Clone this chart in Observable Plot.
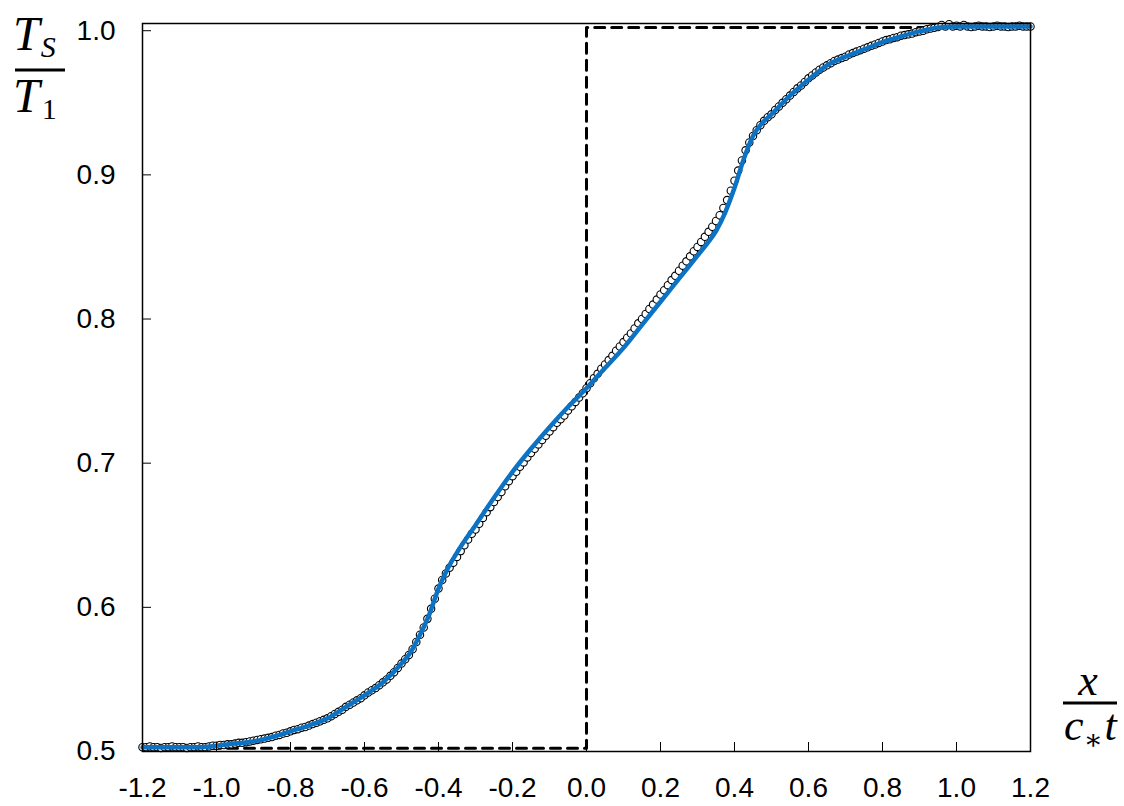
<!DOCTYPE html>
<html>
<head>
<meta charset="utf-8">
<script src="https://cdn.jsdelivr.net/npm/d3@7"></script>
<script src="https://cdn.jsdelivr.net/npm/@observablehq/plot@0.6"></script>
<style>
  html, body { margin: 0; padding: 0; background: #fff; }
  #chart svg { display: block; }
</style>
</head>
<body>
<div id="chart"></div>
<script>
// ---- data ----
const xTicks = [-1.2, -1.0, -0.8, -0.6, -0.4, -0.2, 0.0, 0.2, 0.4, 0.6, 0.8, 1.0, 1.2];
const yTicks = [0.5, 0.6, 0.7, 0.8, 0.9, 1.0];

// analytical solution (blue line)
const lineX = [-1.2,-1.15,-1.1,-1.05,-1.0,-0.95,-0.9,-0.85,-0.8,-0.75,-0.7,-0.65,-0.6,-0.55,-0.5,-0.475,-0.45,-0.425,-0.4,-0.375,-0.35,-0.3,-0.25,-0.2,-0.15,-0.1,-0.05,0,0.05,0.1,0.15,0.2,0.25,0.3,0.325,0.35,0.375,0.4,0.425,0.45,0.475,0.5,0.55,0.6,0.65,0.7,0.75,0.8,0.85,0.9,0.95,1.0,1.05,1.1,1.15,1.2];
const lineY = [0.503,0.503,0.503,0.503,0.504,0.5055,0.507,0.510,0.514,0.518,0.523,0.531,0.539,0.548,0.561,0.569,0.581,0.595,0.613,0.627,0.638,0.657,0.676,0.694,0.710,0.725,0.739,0.752,0.766,0.780,0.796,0.812,0.828,0.844,0.852,0.861,0.874,0.891,0.911,0.927,0.936,0.942,0.955,0.966,0.976,0.982,0.987,0.992,0.996,0.9995,1.002,1.003,1.003,1.003,1.003,1.003];

// simulation samples (open circles), x from -1.20 to 1.20 every 0.01
const circleStart = -1.2;
const circleStep = 0.01;
const circleY = [
  0.503,0.503,0.5035,0.503,0.503,0.5025,0.503,0.503,0.5035,0.503,
  0.503,0.503,0.5025,0.503,0.503,0.5035,0.503,0.503,0.5035,0.504,
  0.504,0.5045,0.5045,0.505,0.505,0.5055,0.506,0.506,0.5065,0.507,
  0.5075,0.508,0.5085,0.509,0.5095,0.510,0.511,0.5115,0.5125,0.513,
  0.514,0.515,0.5155,0.5165,0.517,0.518,0.519,0.520,0.521,0.522,
  0.523,0.5245,0.526,0.5275,0.529,0.531,0.5325,0.534,0.5355,0.537,
  0.539,0.541,0.5425,0.544,0.546,0.548,0.550,0.5525,0.555,0.558,
  0.561,0.564,0.567,0.571,0.576,0.581,0.586,0.592,0.599,0.606,
  0.613,0.619,0.6235,0.6275,0.631,0.635,0.639,0.643,0.647,0.651,
  0.654,0.658,0.662,0.666,0.6695,0.673,0.6765,0.680,0.684,0.6875,
  0.691,0.694,0.6975,0.7005,0.704,0.707,0.710,0.713,0.716,0.719,
  0.722,0.725,0.728,0.7305,0.733,0.7365,0.7395,0.7425,0.7455,0.7485,
  0.752,0.7555,0.759,0.762,0.7655,0.7685,0.7715,0.7745,0.778,0.781,
  0.784,0.787,0.790,0.7935,0.797,0.800,0.8035,0.807,0.810,0.8135,
  0.817,0.820,0.8235,0.827,0.830,0.8335,0.837,0.840,0.8435,0.847,
  0.850,0.8535,0.857,0.8605,0.864,0.868,0.872,0.877,0.8825,0.889,
  0.896,0.903,0.910,0.917,0.9225,0.927,0.931,0.9345,0.9375,0.940,
  0.942,0.945,0.9475,0.950,0.9525,0.955,0.9575,0.960,0.962,0.9645,
  0.967,0.969,0.971,0.973,0.9745,0.976,0.9775,0.979,0.980,0.981,
  0.982,0.9835,0.9845,0.9855,0.9865,0.9875,0.9885,0.9895,0.9905,0.9915,
  0.9925,0.9935,0.994,0.995,0.9955,0.9965,0.997,0.9975,0.998,0.999,
  0.9995,1.000,1.001,1.0015,1.002,1.0025,1.004,1.003,1.0045,1.003,
  1.0035,1.003,1.004,1.003,1.0025,1.003,1.0035,1.003,1.003,1.0025,
  1.003,1.0035,1.003,1.003,1.0025,1.003,1.003,1.0035,1.003,1.003,
  1.003
];

// initial condition (dashed step)
const stepX = [-1.2, 0, 0, 1.2];
const stepY = [0.5023, 0.5023, 1.0023, 1.0023];

// ---- build tables ----
const lineData = lineX.map((x, i) => ({x, y: lineY[i]}));
const circleData = circleY.map((y, i) => ({x: +(circleStart + i * circleStep).toFixed(2), y}));
const stepData = stepX.map((x, i) => ({x, y: stepY[i]}));

const fmt = d => d.toFixed(1);

const chart = Plot.plot({
  width: 1124,
  height: 806,
  marginLeft: 142,
  marginRight: 94,
  marginTop: 23,
  marginBottom: 55,
  style: {fontFamily: "'Liberation Sans', Arial, sans-serif", fontSize: "28px", color: "black", background: "white"},
  x: {domain: [-1.2, 1.2]},
  y: {domain: [0.5, 1.005]},
  marks: [
    Plot.line(stepData, {x: "x", y: "y", stroke: "black", strokeWidth: 3, strokeDasharray: "10,7"}),
    Plot.dot(circleData, {x: "x", y: "y", r: 3.7, fill: "white", stroke: "black", strokeWidth: 1.1}),
    Plot.line(lineData, {x: "x", y: "y", stroke: "#0b72c4", strokeWidth: 4.5, curve: "monotone-x"}),
    Plot.frame({stroke: "black", strokeWidth: 1.5}),
    Plot.axisX({ticks: xTicks, tickFormat: fmt, tickSize: -9, tickPadding: 35, label: null, fontSize: 28}),
    Plot.axisY({ticks: yTicks, tickFormat: fmt, tickSize: -9, tickPadding: 36, label: null, fontSize: 28})
  ]
});

document.getElementById("chart").appendChild(chart);

// ---- axis titles (math fractions) ----
const svg = d3.select(chart);
const serif = "'Liberation Serif', 'DejaVu Serif', serif";

// y title: T_S / T_1
const yt = svg.append("g").attr("font-family", serif).attr("fill", "black").attr("text-anchor", "start");
const num = yt.append("text").attr("x", 13).attr("y", 50).attr("font-size", 48);
num.append("tspan").attr("font-style", "italic").text("T");
num.append("tspan").attr("font-style", "italic").attr("font-size", 30).attr("dx", 1).attr("dy", 7).text("S");
yt.append("line").attr("x1", 15).attr("x2", 65).attr("y1", 70).attr("y2", 70).attr("stroke", "black").attr("stroke-width", 3);
const den = yt.append("text").attr("x", 13).attr("y", 112).attr("font-size", 48);
den.append("tspan").attr("font-style", "italic").text("T");
den.append("tspan").attr("font-size", 30).attr("dx", 2).attr("dy", 7).text("1");

// x title: x / c_* t
const xt = svg.append("g").attr("font-family", serif).attr("fill", "black").attr("text-anchor", "start");
xt.append("text").attr("x", 1088).attr("y", 695).attr("font-size", 44).attr("font-style", "italic").attr("text-anchor", "middle").text("x");
xt.append("line").attr("x1", 1063).attr("x2", 1117).attr("y1", 703).attr("y2", 703).attr("stroke", "black").attr("stroke-width", 3);
const dn = xt.append("text").attr("x", 1064).attr("y", 740).attr("font-size", 44);
dn.append("tspan").attr("font-style", "italic").text("c");
dn.append("tspan").attr("font-size", 28).attr("dy", 9).text("\u2217");
dn.append("tspan").attr("font-style", "italic").attr("dy", -9).attr("dx", 2).text("t");
</script>
</body>
</html>
